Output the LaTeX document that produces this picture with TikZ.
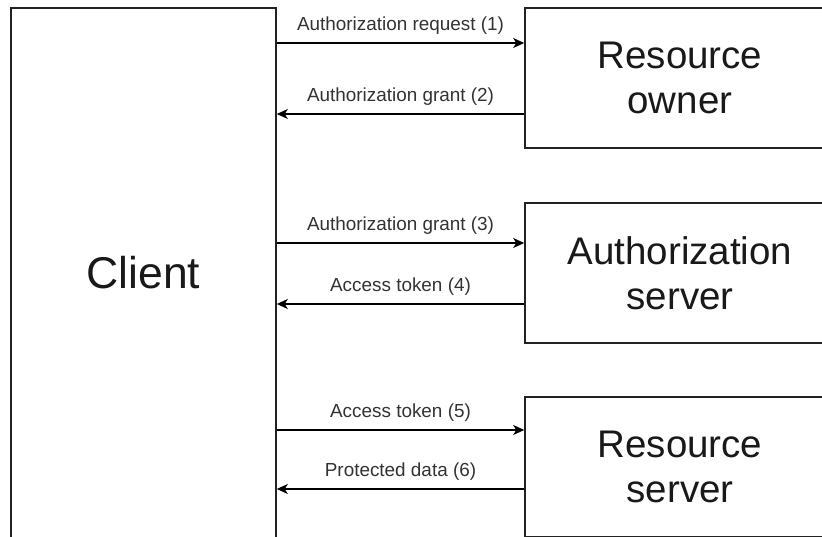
\documentclass[tikz,border=0pt]{standalone}
\usepackage{fontspec}
\setmainfont{Liberation Sans}
\usetikzlibrary{arrows.meta,positioning}
\definecolor{edge}{HTML}{222222}
\definecolor{txt}{HTML}{333333}
\begin{document}
\begin{tikzpicture}[x=1pt,y=-1pt,
  box/.style={draw=edge,line width=1.6pt,rectangle,inner sep=0pt,align=center,text=black!90},
  bigtxt/.style={font=\fontsize{38.5}{45}\selectfont,text depth=0pt},
  flow/.style={draw=black,line width=1.4pt,-{Stealth[length=11pt,width=10pt,inset=3pt]}},
  lbl/.style={font=\fontsize{18.9}{22}\selectfont,text=txt,inner sep=0pt}]
\useasboundingbox (0,0) rectangle (822,536);
\clip (0,0) rectangle (822,536);
\fill[white] (0,0) rectangle (822,536);
\node[box,minimum width=265pt,minimum height=530pt,font=\fontsize{44.5}{52}\selectfont] (client) at (143.5,273) {Client};
\node[box,bigtxt,minimum width=310pt,minimum height=140pt] (ro) at (680,78) {Resource\\owner};
\node[box,bigtxt,minimum width=310pt,minimum height=140pt] (as) at (680,273) {Authorization\\server};
\node[box,bigtxt,minimum width=310pt,minimum height=140pt] (rs) at (680,467) {Resource\\server};
\draw[flow] (client.east |- 0,43) -- node[lbl,midway,above=8pt] (l1) {Authorization request (1)} (ro.west |- 0,43);
\draw[flow] (ro.west |- 0,114) -- node[lbl,midway,above=8pt] (l2) {Authorization grant (2)} (client.east |- 0,114);
\draw[flow] (client.east |- 0,243) -- node[lbl,midway,above=8pt] (l3) {Authorization grant (3)} (as.west |- 0,243);
\draw[flow] (as.west |- 0,304) -- node[lbl,midway,above=8pt] (l4) {Access token (4)} (client.east |- 0,304);
\draw[flow] (client.east |- 0,430) -- node[lbl,midway,above=8pt] (l5) {Access token (5)} (rs.west |- 0,430);
\draw[flow] (rs.west |- 0,489) -- node[lbl,midway,above=8pt] (l6) {Protected data (6)} (client.east |- 0,489);
\end{tikzpicture}
\end{document}
